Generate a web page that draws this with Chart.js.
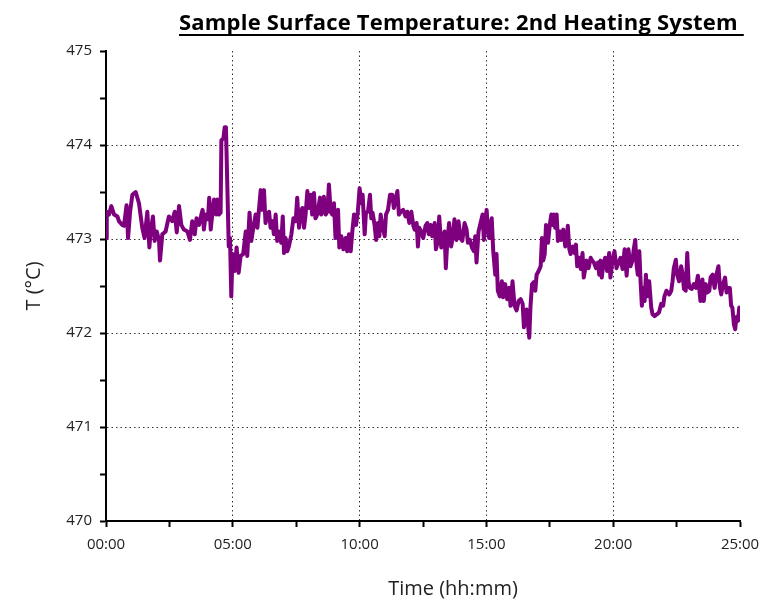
<!DOCTYPE html>
<html>
<head>
<meta charset="utf-8">
<script src="https://cdn.jsdelivr.net/npm/chart.js@4.4.1/dist/chart.umd.min.js"></script>
<style>
  html, body { margin: 0; padding: 0; background: #fff; }
  #wrap { position: relative; width: 763px; height: 601px; }
  #title {
    position: absolute; left: 179px; top: 6px;
    font-family: 'Open Sans', sans-serif; font-weight: bold; font-size: 22px; letter-spacing: 0.2px;
    text-decoration: underline; text-decoration-thickness: 2px; text-underline-offset: 4px;
    text-decoration-skip-ink: none;
    color: #000; white-space: nowrap;
  }
  #xtitle {
    position: absolute; left: 453px; top: 574px; transform: translateX(-50%);
    font-family: 'Open Sans', sans-serif; font-size: 20px; color: #222; white-space: nowrap;
  }
</style>
</head>
<body>
<div id="wrap">
  <canvas id="chart" width="763" height="601"></canvas>
  <div id="title">Sample Surface Temperature: 2nd Heating System&nbsp;</div>
  <div id="xtitle">Time (hh:mm)</div>
</div>
<script>
// time in hours since start
const timeHours = [
  0.00, 0.03, 0.12, 0.21, 0.32, 0.45, 0.51, 0.64, 0.71, 0.81, 0.87, 0.95, 1.04, 1.17, 1.30, 1.43,
  1.52, 1.63, 1.71, 1.76, 1.85, 1.92, 2.00, 2.09, 2.13, 2.22, 2.35, 2.48, 2.61, 2.71, 2.79, 2.88,
  2.97, 3.07, 3.21, 3.31, 3.40, 3.50, 3.57, 3.67, 3.76, 3.81, 3.86, 3.93, 4.02, 4.07, 4.13, 4.19,
  4.26, 4.34, 4.39, 4.45, 4.52, 4.55, 4.63, 4.68, 4.73, 4.78, 4.84, 4.89, 4.94, 4.99, 5.07, 5.15,
  5.23, 5.31, 5.41, 5.51, 5.57, 5.66, 5.73, 5.81, 5.90, 5.97, 6.03, 6.10, 6.16, 6.23, 6.29, 6.36,
  6.43, 6.49, 6.56, 6.62, 6.69, 6.75, 6.82, 6.91, 6.97, 7.02, 7.08, 7.15, 7.21, 7.31, 7.39, 7.48,
  7.54, 7.61, 7.67, 7.74, 7.81, 7.87, 7.94, 8.00, 8.07, 8.13, 8.20, 8.26, 8.33, 8.44, 8.49, 8.59,
  8.66, 8.73, 8.79, 8.86, 8.92, 8.99, 9.05, 9.15, 9.20, 9.28, 9.36, 9.45, 9.51, 9.58, 9.65, 9.71,
  9.78, 9.86, 9.93, 10.00, 10.07, 10.12, 10.20, 10.25, 10.33, 10.41, 10.46, 10.51, 10.59, 10.65, 10.72, 10.78,
  10.83, 10.89, 10.99, 11.04, 11.12, 11.20, 11.29, 11.35, 11.42, 11.49, 11.55, 11.62, 11.72, 11.81, 11.88, 11.96,
  12.04, 12.12, 12.17, 12.25, 12.30, 12.35, 12.43, 12.51, 12.60, 12.67, 12.73, 12.80, 12.86, 12.96, 13.01, 13.09,
  13.14, 13.22, 13.30, 13.35, 13.40, 13.46, 13.53, 13.61, 13.67, 13.74, 13.82, 13.90, 13.98, 14.05, 14.14, 14.22,
  14.27, 14.35, 14.43, 14.51, 14.56, 14.61, 14.69, 14.77, 14.85, 14.90, 14.95, 15.01, 15.06, 15.11, 15.16, 15.21,
  15.27, 15.35, 15.40, 15.45, 15.53, 15.61, 15.66, 15.74, 15.82, 15.90, 15.95, 16.03, 16.11, 16.19, 16.27, 16.35,
  16.43, 16.48, 16.53, 16.58, 16.64, 16.69, 16.74, 16.80, 16.87, 16.93, 16.98, 17.06, 17.14, 17.19, 17.24, 17.30,
  17.35, 17.43, 17.50, 17.56, 17.61, 17.66, 17.71, 17.77, 17.82, 17.90, 17.95, 18.03, 18.11, 18.16, 18.21, 18.27,
  18.32, 18.40, 18.48, 18.53, 18.58, 18.66, 18.72, 18.79, 18.84, 18.95, 19.03, 19.11, 19.17, 19.24, 19.32, 19.40,
  19.45, 19.50, 19.55, 19.61, 19.68, 19.76, 19.84, 19.89, 19.97, 20.05, 20.13, 20.21, 20.29, 20.37, 20.45, 20.53,
  20.60, 20.68, 20.76, 20.81, 20.87, 20.92, 20.97, 21.03, 21.08, 21.13, 21.18, 21.24, 21.29, 21.34, 21.42, 21.50,
  21.55, 21.63, 21.73, 21.81, 21.89, 21.97, 22.02, 22.10, 22.21, 22.29, 22.34, 22.39, 22.47, 22.52, 22.60, 22.68,
  22.73, 22.79, 22.86, 22.92, 22.97, 23.02, 23.10, 23.18, 23.26, 23.34, 23.39, 23.44, 23.52, 23.57, 23.65, 23.71,
  23.79, 23.84, 23.92, 24.00, 24.07, 24.15, 24.21, 24.26, 24.33, 24.41, 24.47, 24.52, 24.60, 24.65, 24.70, 24.76,
  24.81, 24.86, 24.92, 24.97, 25.00
];

// sample surface temperature, deg C
const surfaceTemp = [
  473.01, 473.29, 473.26, 473.35, 473.26, 473.24, 473.19, 473.15, 473.14, 473.36, 473.01, 473.29, 473.47, 473.50, 473.38, 473.12,
  473.01, 473.29, 472.91, 473.08, 473.24, 472.98, 473.08, 472.99, 472.77, 473.05, 473.08, 473.24, 473.19, 473.29, 473.07, 473.35,
  473.15, 473.10, 473.08, 472.99, 473.19, 473.05, 473.22, 473.15, 473.26, 473.31, 473.10, 473.26, 473.21, 473.44, 473.10, 473.26,
  473.42, 473.26, 473.42, 473.26, 473.28, 474.05, 474.07, 474.19, 474.19, 473.61, 472.92, 473.01, 472.39, 472.84, 472.66, 472.91,
  472.64, 472.82, 472.84, 473.08, 472.82, 473.28, 472.98, 473.12, 473.26, 473.12, 473.31, 473.52, 473.31, 473.52, 473.17, 473.26,
  473.29, 473.12, 473.19, 473.05, 473.26, 472.98, 473.08, 472.96, 473.24, 472.85, 473.01, 472.87, 472.92, 473.05, 473.22, 473.19,
  473.44, 473.12, 473.26, 473.33, 473.12, 473.26, 473.51, 473.33, 473.47, 473.26, 473.49, 473.22, 473.26, 473.44, 473.26, 473.45,
  473.26, 473.29, 473.58, 473.29, 473.26, 473.38, 473.01, 473.31, 472.91, 473.03, 472.89, 473.01, 472.87, 473.05, 472.87, 473.07,
  473.26, 473.15, 473.29, 473.54, 473.38, 473.47, 473.05, 473.28, 473.29, 473.47, 473.22, 473.28, 473.15, 472.99, 473.17, 473.03,
  473.26, 473.15, 473.03, 473.26, 473.31, 473.47, 473.47, 473.33, 473.42, 473.51, 473.26, 473.29, 473.31, 473.24, 473.29, 473.17,
  473.29, 473.14, 473.10, 473.17, 472.92, 473.12, 473.08, 473.01, 473.14, 473.17, 473.05, 473.15, 473.03, 473.17, 472.89, 472.98,
  473.24, 472.91, 473.01, 473.08, 472.69, 472.98, 473.17, 472.92, 473.01, 473.21, 472.99, 473.19, 473.01, 472.98, 473.17, 473.10,
  472.96, 472.99, 472.91, 472.87, 473.03, 472.75, 473.08, 473.17, 473.26, 472.99, 473.19, 473.31, 473.08, 473.01, 473.15, 473.22,
  472.87, 472.62, 472.84, 472.45, 472.39, 472.55, 472.38, 472.52, 472.36, 472.48, 472.29, 472.55, 472.29, 472.24, 472.34, 472.36,
  472.31, 472.06, 472.20, 472.25, 472.09, 471.95, 472.29, 472.52, 472.54, 472.45, 472.62, 472.66, 472.71, 473.01, 472.77, 472.84,
  473.15, 472.96, 473.15, 473.26, 473.15, 473.26, 473.12, 473.26, 472.98, 473.08, 472.99, 473.10, 472.92, 472.98, 473.14, 472.89,
  472.84, 472.92, 472.85, 472.94, 472.71, 472.80, 472.68, 472.85, 472.59, 472.77, 472.69, 472.80, 472.77, 472.75, 472.69, 472.75,
  472.62, 472.77, 472.59, 472.73, 472.80, 472.66, 472.85, 472.59, 472.77, 472.87, 472.69, 472.75, 472.80, 472.68, 472.89, 472.61,
  472.89, 472.71, 472.77, 472.89, 472.99, 472.73, 472.62, 472.87, 472.55, 472.29, 472.48, 472.34, 472.62, 472.39, 472.55, 472.27,
  472.20, 472.18, 472.20, 472.22, 472.31, 472.29, 472.39, 472.45, 472.41, 472.45, 472.55, 472.69, 472.78, 472.62, 472.55, 472.71,
  472.64, 472.47, 472.45, 472.85, 472.55, 472.48, 472.47, 472.52, 472.48, 472.61, 472.48, 472.34, 472.57, 472.34, 472.52, 472.43,
  472.45, 472.59, 472.62, 472.48, 472.62, 472.71, 472.48, 472.41, 472.52, 472.59, 472.43, 472.48, 472.48, 472.29, 472.27, 472.09,
  472.04, 472.17, 472.13, 472.27, 472.25
];

const xTickLabels = ['00:00', '05:00', '10:00', '15:00', '20:00', '25:00'];
const yTickLabels = ['470', '471', '472', '473', '474', '475'];

const fontFam = "'Open Sans', 'DejaVu Sans', sans-serif";
const ctx = document.querySelector('#chart').getContext('2d');

// major ticks get a label and (if inside the plot) a dotted grid line
function isMajor(v, step) {
    return Math.abs(v / step - Math.round(v / step)) < 1e-6;
}

const chart = new Chart(ctx, {
    type: 'line',
    data: {
        datasets: [{
            label: 'T',
            data: timeHours.map((h, i) => ({x: h, y: surfaceTemp[i]})),
            borderColor: '#7e007e',
            backgroundColor: '#7e007e',
            borderWidth: 4,
            borderJoinStyle: 'round',
            pointRadius: 0,
            tension: 0
        }]
    },
    options: {
        responsive: false,
        animation: false,
        layout: {
            padding: { top: 51, right: 23, left: 0, bottom: 0 }
        },
        scales: {
            x: {
                type: 'linear',
                min: 0,
                max: 25,
                afterFit: (scale) => {
                    scale.height = 80;
                    scale.paddingLeft = 0;
                    scale.paddingRight = 0;
                },
                border: {
                    display: true,
                    color: '#000',
                    width: 2,
                    dash: [1.5, 3]
                },
                grid: {
                    drawOnChartArea: true,
                    color: (c) => (c.tick && isMajor(c.tick.value, 5) && c.tick.value > 0 && c.tick.value < 25) ? '#333' : 'rgba(0,0,0,0)',
                    lineWidth: 1,
                    tickColor: '#000',
                    tickLength: 6,
                    tickWidth: 2,
                    tickBorderDash: []
                },
                ticks: {
                    stepSize: 2.5,
                    autoSkip: false,
                    maxRotation: 0,
                    padding: 9,
                    color: '#222',
                    font: { family: fontFam, size: 15 },
                    callback: (v) => isMajor(v, 5) ? xTickLabels[Math.round(v / 5)] : ''
                },
                title: { display: false }
            },
            y: {
                type: 'linear',
                min: 470,
                max: 475,
                afterFit: (scale) => { scale.width = 106; },
                border: {
                    display: true,
                    color: '#000',
                    width: 2,
                    dash: [1.5, 3]
                },
                grid: {
                    drawOnChartArea: true,
                    color: (c) => (c.tick && isMajor(c.tick.value, 1) && c.tick.value > 470 && c.tick.value < 475) ? '#333' : 'rgba(0,0,0,0)',
                    lineWidth: 1,
                    tickColor: '#000',
                    tickLength: 6,
                    tickWidth: 2,
                    tickBorderDash: []
                },
                ticks: {
                    stepSize: 0.5,
                    autoSkip: false,
                    padding: 8,
                    color: '#222',
                    font: { family: fontFam, size: 15 },
                    callback: (v) => isMajor(v, 1) ? yTickLabels[Math.round(v - 470)] : ''
                },
                title: {
                    display: true,
                    text: 'T (°C)',
                    color: '#222',
                    font: { family: fontFam, size: 20 },
                    padding: { top: 22, bottom: 0 }
                }
            }
        },
        plugins: {
            legend: { display: false },
            tooltip: { enabled: false }
        }
    }
});
</script>
</body>
</html>
